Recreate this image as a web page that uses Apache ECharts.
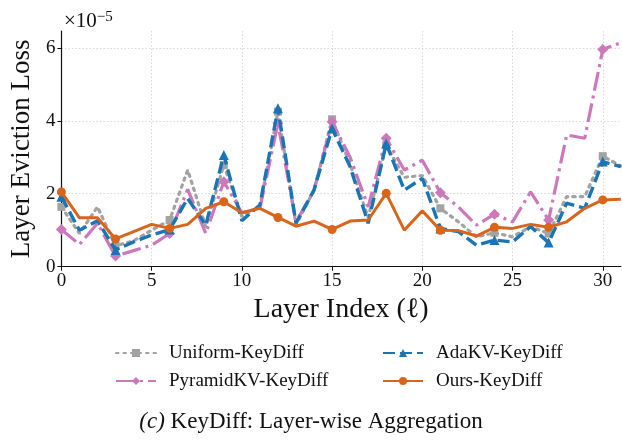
<!DOCTYPE html>
<html>
<head>
<meta charset="utf-8">
<script src="https://cdn.jsdelivr.net/npm/echarts@6/dist/echarts.min.js"></script>
<style>
html,body{margin:0;padding:0;background:#fff;}
#chart{width:622px;height:440px;}
</style>
</head>
<body>
<div id="chart"></div>
<script>
// Layer-wise eviction loss, in units of 1e-5
const layers = [0,1,2,3,4,5,6,7,8,9,10,11,12,13,14,15,16,17,18,19,20,21,22,23,24,25,26,27,28,29,30,31];
const uniformKeyDiff = [1.64,0.91,1.64,0.57,0.71,1.0,1.28,2.65,1.1,2.79,1.37,1.65,4.25,1.15,2.1,4.04,2.8,1.35,3.33,2.45,2.5,1.6,1.23,0.82,0.93,0.82,1.1,0.91,1.92,1.92,3.03,2.76];
const pyramidKeyDiff = [1.02,0.61,1.19,0.29,0.44,0.59,0.91,2.12,0.91,2.33,1.48,1.6,3.93,1.23,2.1,3.97,3.0,1.64,3.52,2.65,2.92,2.03,1.64,1.14,1.44,1.23,2.05,1.28,3.61,3.52,5.95,6.14];
const adaKeyDiff = [1.92,1.0,1.26,0.46,0.68,0.87,1.02,1.87,1.14,3.06,1.26,1.69,4.34,1.19,2.1,3.79,2.74,1.19,3.38,2.1,2.42,1.05,0.96,0.59,0.73,0.68,1.1,0.66,1.74,1.6,2.88,2.74];
const oursKeyDiff = [2.05,1.34,1.34,0.76,0.96,1.16,1.05,1.16,1.6,1.78,1.48,1.6,1.35,1.11,1.25,1.02,1.25,1.28,2.01,1.0,1.53,1.0,0.99,0.84,1.08,1.05,1.16,1.08,1.23,1.6,1.83,1.85];
const seriesNames = ['Uniform-KeyDiff','PyramidKV-KeyDiff','AdaKV-KeyDiff','Ours-KeyDiff'];
const xTicks = [0,5,10,15,20,25,30];
const yTicks = [0,2,4,6];

const FONT = '"Liberation Serif","DejaVu Serif",serif';
const chart = echarts.init(document.getElementById('chart'), null, {renderer:'canvas'});

function pts(vals){ return layers.map((l,i)=>[l, vals[i]]); }
function mk(size){ return (v, p) => (p.dataIndex % 3 === 0 ? size : 0); }

const styles = [
  {color:'#a3a3a3', type:[2.5,5], sym:'rect', size:8, w:3.2, cap:'round'},
  {color:'#cc78bc', type:[19,5,3,5], sym:'diamond', size:11, w:3.2, cap:'butt'},
  {color:'#1b75b5', type:[12,5], sym:'triangle', size:10, w:3.4, cap:'butt'},
  {color:'#d9651b', type:'solid', sym:'circle', size:9, w:3, cap:'butt'}
];
const allVals = [uniformKeyDiff, pyramidKeyDiff, adaKeyDiff, oursKeyDiff];

const series = seriesNames.map((name, k) => ({
  name,
  type:'line',
  data: pts(allVals[k]),
  symbol: styles[k].sym,
  symbolSize: mk(styles[k].size),
  showAllSymbol: true,
  color: styles[k].color,
  lineStyle:{color:styles[k].color, width:styles[k].w, type:styles[k].type, cap:styles[k].cap},
  itemStyle:{color:styles[k].color, borderWidth:0},
  emphasis:{disabled:true},
  animation:false,
  z: 2 + k
}));

const legendCommon = {
  orient:'vertical',
  itemWidth:40,
  itemHeight:10,
  itemGap:8,
  textStyle:{fontFamily:FONT, fontSize:19, color:'#111', lineHeight:20, padding:[0,0,0,8]}
};

chart.setOption({
  animation:false,
  backgroundColor:'#fff',
  grid:{left:58.3, right:1.2, top:31, bottom:173.3, containLabel:false},
  title:{
    text:'{a|×10}{b|−5}',
    left:59, top:5,
    textStyle:{fontWeight:'normal', rich:{
      a:{fontFamily:FONT, fontSize:21, fontWeight:'normal', color:'#111', verticalAlign:'bottom', lineHeight:22},
      b:{fontFamily:FONT, fontSize:15, fontWeight:'normal', color:'#111', verticalAlign:'top', lineHeight:22, padding:[0,0,8,0]}
    }}
  },
  legend:[
    Object.assign({}, legendCommon, {left:110, top:338, data:[seriesNames[0], seriesNames[1]]}),
    Object.assign({}, legendCommon, {left:377, top:338, data:[seriesNames[2], seriesNames[3]]})
  ],
  graphic:[{
    type:'text', left:'center', top:410,
    style:{text:'{i|(c)} KeyDiff: Layer-wise Aggregation', fill:'#111', font:'23px '+FONT,
      rich:{i:{fontFamily:FONT, fontSize:23, fontStyle:'italic', fill:'#111'}}}
  }],
  xAxis:{
    type:'value', min:0, max:31, interval:5,
    name:'Layer Index (ℓ)', nameLocation:'middle', nameGap:26,
    nameTextStyle:{fontFamily:FONT, fontSize:28, color:'#111'},
    axisLine:{show:true, lineStyle:{color:'#111', width:1.2}},
    axisTick:{show:true, length:4, lineStyle:{color:'#111'}},
    axisLabel:{fontFamily:FONT, fontSize:19, color:'#111', margin:5, showMaxLabel:false,
      formatter:v => xTicks.includes(v) ? String(v) : ''},
    splitLine:{show:true, showMaxLine:false, lineStyle:{color:'#d8d8d8', type:[1.5,2], width:1}}
  },
  yAxis:{
    type:'value', min:0, max:6.46, interval:2,
    name:'Layer Eviction Loss', nameLocation:'middle', nameGap:22,
    nameTextStyle:{fontFamily:FONT, fontSize:27, color:'#111'},
    axisLine:{show:true, lineStyle:{color:'#111', width:1.2}},
    axisTick:{show:true, length:4, lineStyle:{color:'#111'}},
    axisLabel:{fontFamily:FONT, fontSize:19, color:'#111', margin:6, showMaxLabel:false,
      formatter:v => yTicks.includes(v) ? String(v) : ''},
    splitLine:{show:true, showMaxLine:false, lineStyle:{color:'#d8d8d8', type:[1.5,2], width:1}}
  },
  series
});
</script>
</body>
</html>
